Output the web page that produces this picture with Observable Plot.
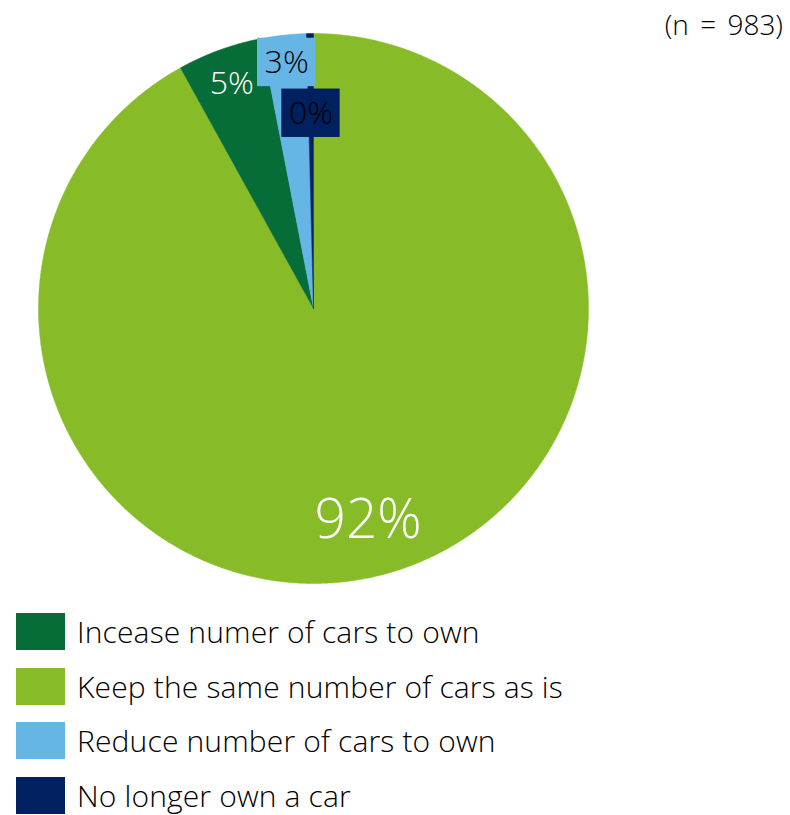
<!DOCTYPE html>
<html><head><meta charset="utf-8">
<script src="https://cdn.jsdelivr.net/npm/d3@7"></script>
<script src="https://cdn.jsdelivr.net/npm/@observablehq/plot@0.6"></script>
<style>
body{margin:0;background:#fff;font-family:"Open Sans",sans-serif;font-weight:300;}
#wrap{position:relative;width:790px;height:815px;overflow:hidden;}
#chart{position:absolute;left:0;top:0;}
#n{position:absolute;right:7px;top:5px;font-size:28px;line-height:38px;color:#000;white-space:nowrap;word-spacing:4px;}
.row{position:absolute;left:16px;display:flex;align-items:center;height:37px;}
.sw{width:49px;height:37px;margin-right:12px;flex:none;}
.lab{font-size:30px;color:#000;white-space:nowrap;line-height:37px;letter-spacing:0.15px;}
</style></head>
<body>
<div id="wrap"><div id="chart"></div><div id="n"></div><div id="legend"></div></div>
<script>
const categories = ["Incease numer of cars to own","Keep the same number of cars as is","Reduce number of cars to own","No longer own a car"];
const counts = [49, 904, 26, 4];
const pctLabels = ["5%","92%","3%","0%"];
const colors = ["#066C38","#87BC28","#65B5E5","#002060"];
const sampleLabel = "(n = 983)";
// clockwise order of slices starting at 12 o'clock
const clockwiseOrder = [1, 0, 2, 3];

const total = d3.sum(counts);
const labelRadius = [0.87, 0.795, 0.9, 0.71];
const labelStyle = [
  {text:"#fff", size:32, box:null},
  {text:"#fff", size:55, box:null},
  {text:"#000", size:32, box:colors[2]},
  {text:"#000", size:32, box:colors[3]}
];

const polys = [];
const labelPts = [];
let acc = 0;
for (const i of clockwiseOrder) {
  const a0 = acc / total * 2 * Math.PI;
  acc += counts[i];
  const a1 = acc / total * 2 * Math.PI;
  const n = Math.max(2, Math.ceil((a1 - a0) / (Math.PI / 720)));
  polys.push({cat: categories[i], x: 0, y: 0});
  for (let k = 0; k <= n; k++) {
    const a = a0 + (a1 - a0) * k / n;
    polys.push({cat: categories[i], x: Math.sin(a), y: Math.cos(a)});
  }
  polys.push({cat: categories[i], x: 0, y: 0});
  const am = (a0 + a1) / 2, r = labelRadius[i];
  labelPts.push({i, label: pctLabels[i], x: r * Math.sin(am), y: r * Math.cos(am)});
}

const bw = 0.106, bh = 0.088;
const marks = [
  Plot.line(polys, {x: "x", y: "y", z: "cat", fill: "cat", stroke: "cat", strokeWidth: 0.5, curve: "linear"})
];
for (const p of labelPts) {
  const s = labelStyle[p.i];
  if (s.box) marks.push(Plot.rect([p], {x1: d => d.x - bw, x2: d => d.x + bw, y1: d => d.y - bh, y2: d => d.y + bh, fill: s.box}));
  marks.push(Plot.text([p], {x: "x", y: "y", text: "label", fill: s.text, fontSize: s.size, fontWeight: 300}));
}

const chart = Plot.plot({
  width: 790, height: 600,
  marginLeft: 38, marginRight: 202, marginTop: 33, marginBottom: 17,
  style: {fontFamily: "Open Sans, sans-serif", background: "#fff"},
  x: {domain: [-1, 1], axis: null},
  y: {domain: [-1, 1], axis: null},
  color: {domain: categories, range: colors},
  marks
});
document.getElementById("chart").appendChild(chart);
document.getElementById("n").textContent = sampleLabel;

const legend = document.getElementById("legend");
categories.forEach((c, i) => {
  const row = document.createElement("div");
  row.className = "row";
  row.style.top = (613 + i * 54.7) + "px";
  const sw = document.createElement("div");
  sw.className = "sw"; sw.style.background = colors[i];
  const lab = document.createElement("div");
  lab.className = "lab"; lab.textContent = c;
  row.appendChild(sw); row.appendChild(lab);
  legend.appendChild(row);
});
</script>
</body></html>
